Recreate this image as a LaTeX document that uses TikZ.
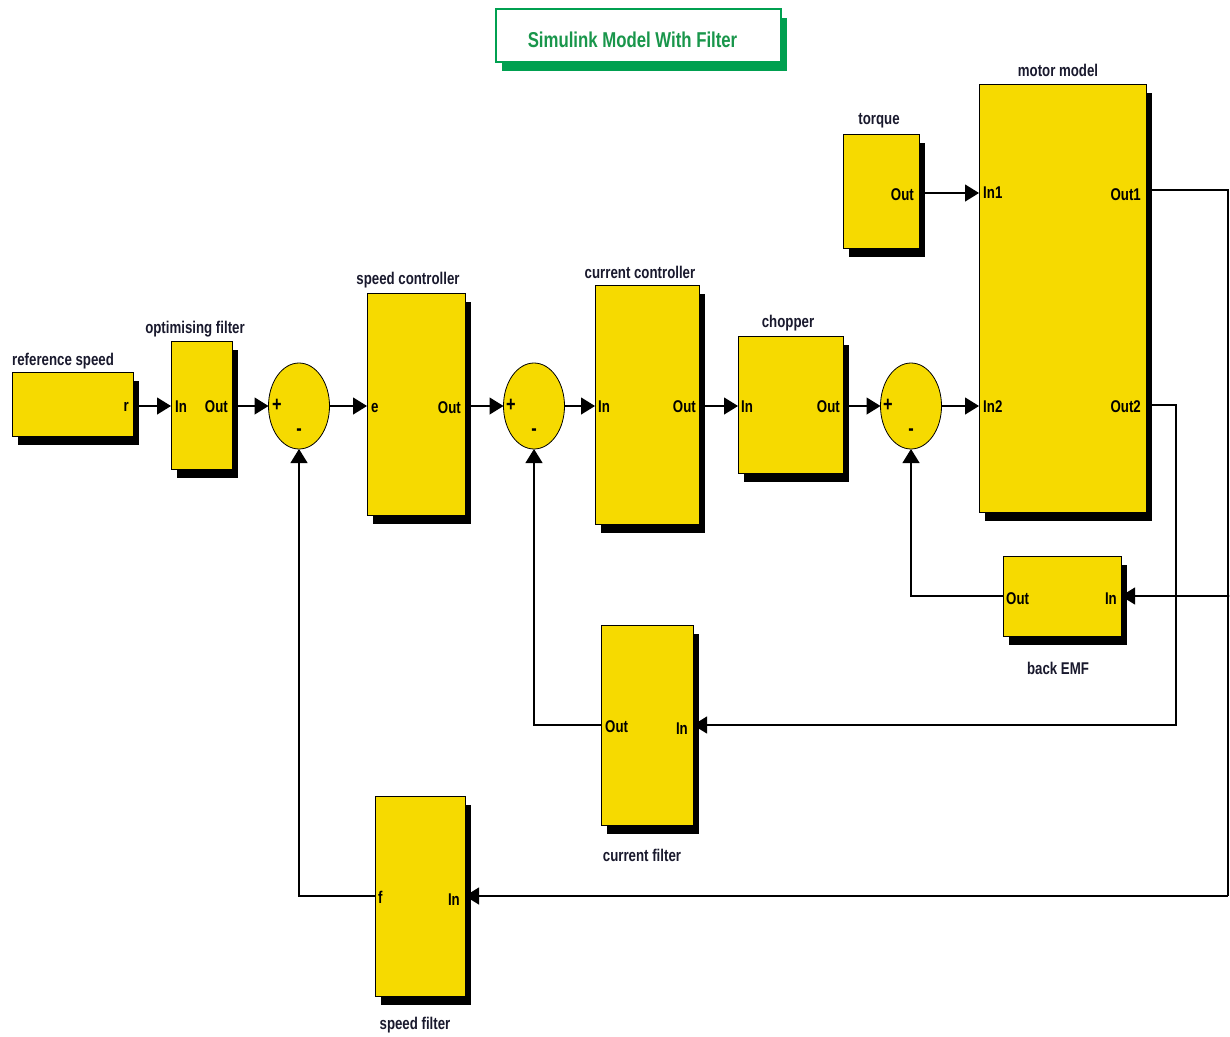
\documentclass[tikz,border=0pt]{standalone}
\usepackage{fontspec}
\setmainfont{Liberation Sans}[FakeStretch=0.82]
\newfontfamily\simfont{Liberation Sans}[FakeStretch=0.78]
\usetikzlibrary{shadows,arrows.meta,shapes.geometric}
\definecolor{simyellow}{RGB}{246,218,0}
\definecolor{titlegreen}{RGB}{0,160,80}
\definecolor{titletext}{RGB}{25,150,75}
\definecolor{labelcol}{RGB}{25,25,45}
\begin{document}
\begin{tikzpicture}[x=1pt,y=-1pt,
  block/.style={draw=black, line width=0.9pt, fill=simyellow, inner sep=0pt, outer sep=0pt,
    drop shadow={shadow xshift=6pt, shadow yshift=-9pt, fill=black, opacity=1}},
  sumblk/.style={ellipse, draw=black, line width=0.8pt, fill=simyellow, inner sep=0pt, outer sep=0pt,
    minimum width=61pt, minimum height=86pt},
  lbl/.style={text=labelcol, inner sep=0pt, font=\simfont\bfseries\fontsize{17}{20}\selectfont},
  port/.style={text=black, inner sep=0pt, font=\simfont\bfseries\fontsize{17}{20}\selectfont},
  sgn/.style={text=black, inner sep=0pt, font=\simfont\bfseries\fontsize{21}{22}\selectfont},
  wire/.style={draw=black, line width=1.2pt},
  sig/.style={wire, -{Triangle[length=14pt,width=17pt]}}
]
\useasboundingbox (0,0) rectangle (1230,1036);

% title
\node[draw=titlegreen, line width=1.5pt, fill=white, inner sep=0pt, outer sep=0pt,
  minimum width=285pt, minimum height=53pt,
  drop shadow={shadow xshift=6pt, shadow yshift=-9pt, fill=titlegreen, opacity=1},
  label={[inner sep=0pt, xshift=-6pt, yshift=-4pt, text=titletext, font=\simfont\bfseries\fontsize{21.5}{24}\selectfont]center:Simulink Model With Filter}] (title) at (638.5,35.5) {};

% blocks
\node[block, minimum width=121pt, minimum height=64pt] (ref) at (72.5,404) {};
\node[block, minimum width=61pt, minimum height=128pt] (opt) at (201.5,405) {};
\node[sumblk] (sum1) at (299,406) {};
\node[block, minimum width=98pt, minimum height=222pt] (spc) at (416,404) {};
\node[sumblk] (sum2) at (534,406) {};
\node[block, minimum width=104pt, minimum height=239pt] (ccn) at (647,404.5) {};
\node[block, minimum width=105pt, minimum height=137pt] (chop) at (790.5,404.5) {};
\node[sumblk] (sum3) at (911,406) {};
\node[block, minimum width=167pt, minimum height=428pt] (motor) at (1062.5,298) {};
\node[block, minimum width=76pt, minimum height=114pt] (torque) at (881,191) {};
\node[block, minimum width=118pt, minimum height=80pt] (bemf) at (1062,596) {};
\node[block, minimum width=92pt, minimum height=200pt] (cfil) at (647,725) {};
\node[block, minimum width=90pt, minimum height=200pt] (sfil) at (420,896) {};

% block labels
\node[lbl, anchor=west] (lref) at (12,361) {reference speed};
\node[lbl] (lopt) at (195,329) {optimising filter};
\node[lbl] (lspc) at (408,280) {speed controller};
\node[lbl] (lccn) at (640,272) {current controller};
\node[lbl] (lchop) at (788,323) {chopper};
\node[lbl] (lmotor) at (1058,70) {motor model};
\node[lbl] (ltorque) at (879,121) {torque};
\node[lbl] (lbemf) at (1058,668) {back EMF};
\node[lbl] (lcfil) at (642,855) {current filter};
\node[lbl] (lsfil) at (415,1025) {speed filter};

% port labels
\node[port, anchor=east] (pr) at (129,407) {r};
\node[port, anchor=west] (poptin) at (175,407) {In};
\node[port, anchor=east] (poptout) at (228,407) {Out};
\node[port, anchor=west] (pspce) at (371,408) {e};
\node[port, anchor=east] (pspcout) at (461,408) {Out};
\node[port, anchor=west] (pccnin) at (598,407) {In};
\node[port, anchor=east] (pccnout) at (696,407) {Out};
\node[port, anchor=west] (pchopin) at (741,407) {In};
\node[port, anchor=east] (pchopout) at (840,407) {Out};
\node[port, anchor=west] (pin1) at (983,193) {In1};
\node[port, anchor=west] (pin2) at (983,407) {In2};
\node[port, anchor=east] (pout1) at (1141,195) {Out1};
\node[port, anchor=east] (pout2) at (1141,407) {Out2};
\node[port, anchor=east] (ptorque) at (914,195) {Out};
\node[port, anchor=west] (pbemfout) at (1006,599) {Out};
\node[port, anchor=east] (pbemfin) at (1117,599) {In};
\node[port, anchor=west] (pcfilout) at (605,727) {Out};
\node[port, anchor=east] (pcfilin) at (688,729) {In};
\node[port, anchor=west] (psfilf) at (378,897) {f};
\node[port, anchor=east] (psfilin) at (460,900) {In};

% sum signs
\node[sgn] (s1p) at (277,405) {+};
\node[sgn] (s1m) at (299,432) {-};
\node[sgn] (s2p) at (511,405) {+};
\node[sgn] (s2m) at (534,432) {-};
\node[sgn] (s3p) at (888,405) {+};
\node[sgn] (s3m) at (911,432) {-};

% coordinates
\coordinate (rail) at (1228,596);
\coordinate (o2x) at (1176,405);

% main chain
\draw[sig] (ref.east |- 0,406) -- (opt.west |- 0,406);
\draw[sig] (opt.east |- 0,406) -- (sum1.west);
\draw[sig] (sum1.east) -- (spc.west |- 0,406);
\draw[sig] (spc.east |- 0,406) -- (sum2.west);
\draw[sig] (sum2.east) -- (ccn.west |- 0,406);
\draw[sig] (ccn.east |- 0,406) -- (chop.west |- 0,406);
\draw[sig] (chop.east |- 0,406) -- (sum3.west);
\draw[sig] (sum3.east) -- (motor.west |- 0,406);
\draw[sig] (torque.east |- 0,193) -- (motor.west |- 0,193);

% motor outputs
\draw[wire] (motor.east |- 0,190) -| (rail) -- (rail |- sfil.east);
\draw[sig] (rail |- sfil.east) -- (sfil.east);
\draw[sig] (rail) -- (bemf.east);
\fill (rail) circle (1.6);
\draw[sig] (motor.east |- o2x) -| (o2x |- cfil.east) -- (cfil.east);

% feedback
\draw[sig] (bemf.west) -| (sum3.south);
\draw[sig] (cfil.west) -| (sum2.south);
\draw[sig] (sfil.west) -| (sum1.south);
\end{tikzpicture}
\end{document}
